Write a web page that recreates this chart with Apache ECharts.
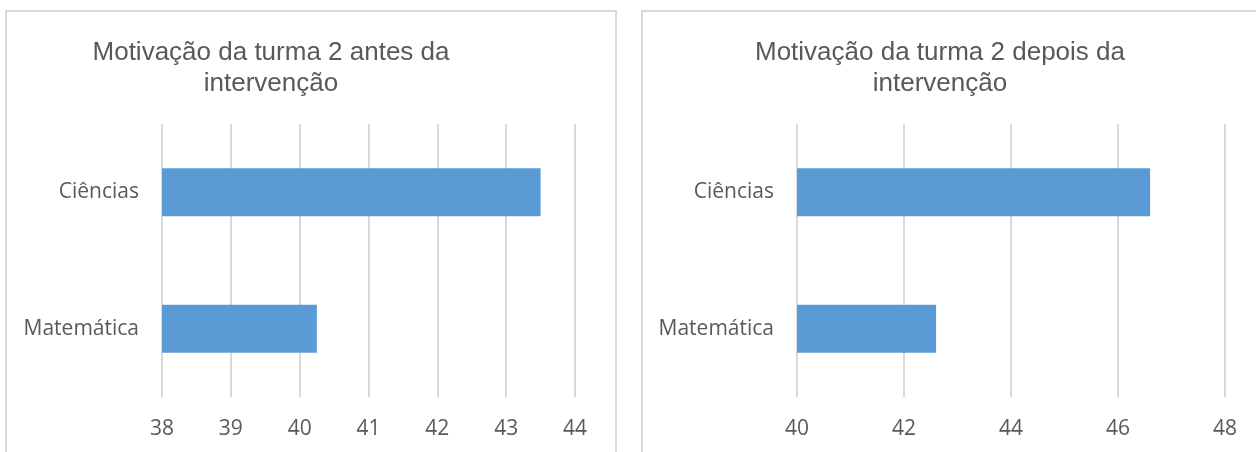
<!DOCTYPE html>
<html>
<head>
<meta charset="utf-8">
<script src="https://cdn.jsdelivr.net/npm/echarts@6/dist/echarts.min.js"></script>
<style>
  html, body { margin: 0; padding: 0; background: #fff; }
  #chart { width: 1256px; height: 452px; }
</style>
</head>
<body>
<div id="chart"></div>
<script>
// categorias (de cima para baixo)
const categories = ['Ciências', 'Matemática'];

// turma 2 antes / depois da intervenção
const antesValues = [43.5, 40.25];
const depoisValues = [46.6, 42.6];

const antesTitle = 'Motivação da turma 2 antes da\nintervenção';
const depoisTitle = 'Motivação da turma 2 depois da\nintervenção';

const TEXT = '#595959';
const GRID = '#d9d9d9';
const BAR = '#5B9BD5';

function makeTitle(text, cx) {
  return {
    text: text,
    left: cx,
    top: 32,
    textAlign: 'center',
    textStyle: {
      fontFamily: 'Liberation Sans, Arial, sans-serif',
      fontSize: 26,
      fontWeight: 'normal',
      color: TEXT,
      lineHeight: 31
    }
  };
}

function makeXAxis(idx, min, max, interval) {
  return {
    type: 'value',
    gridIndex: idx,
    min: min,
    max: max,
    interval: interval,
    axisLine: { show: false },
    axisTick: { show: false },
    axisLabel: {
      margin: 22,
      fontFamily: 'Open Sans, sans-serif',
      fontSize: 21,
      color: TEXT
    },
    splitLine: { lineStyle: { color: GRID, width: 2 } }
  };
}

function makeYAxis(idx) {
  return {
    type: 'category',
    gridIndex: idx,
    data: categories,
    inverse: true,
    axisLine: { show: false },
    axisTick: { show: false },
    axisLabel: {
      margin: 23,
      padding: [3, 0, 0, 0],
      fontFamily: 'Open Sans, sans-serif',
      fontSize: 21,
      color: TEXT
    }
  };
}

const myChart = echarts.init(document.getElementById('chart'));

const option = {
  animation: false,
  backgroundColor: '#fff',
  title: [
    makeTitle(antesTitle, 266),
    makeTitle(depoisTitle, 935)
  ],
  graphic: [
    { type: 'rect', shape: { x: 6, y: 11, width: 610, height: 500 },
      style: { fill: 'none', stroke: GRID, lineWidth: 2 }, z: -1 },
    { type: 'rect', shape: { x: 642, y: 11, width: 700, height: 500 },
      style: { fill: 'none', stroke: GRID, lineWidth: 2 }, z: -1 }
  ],
  grid: [
    { left: 162, right: 1256 - 575, top: 124, bottom: 55 },
    { left: 797, right: 1256 - 1225, top: 124, bottom: 55 }
  ],
  xAxis: [
    makeXAxis(0, 38, 44, 1),
    makeXAxis(1, 40, 48, 2)
  ],
  yAxis: [
    makeYAxis(0),
    makeYAxis(1)
  ],
  series: [
    { type: 'bar', xAxisIndex: 0, yAxisIndex: 0, data: antesValues,
      barWidth: 48, itemStyle: { color: BAR } },
    { type: 'bar', xAxisIndex: 1, yAxisIndex: 1, data: depoisValues,
      barWidth: 48, itemStyle: { color: BAR } }
  ]
};

myChart.setOption(option);
</script>
</body>
</html>
